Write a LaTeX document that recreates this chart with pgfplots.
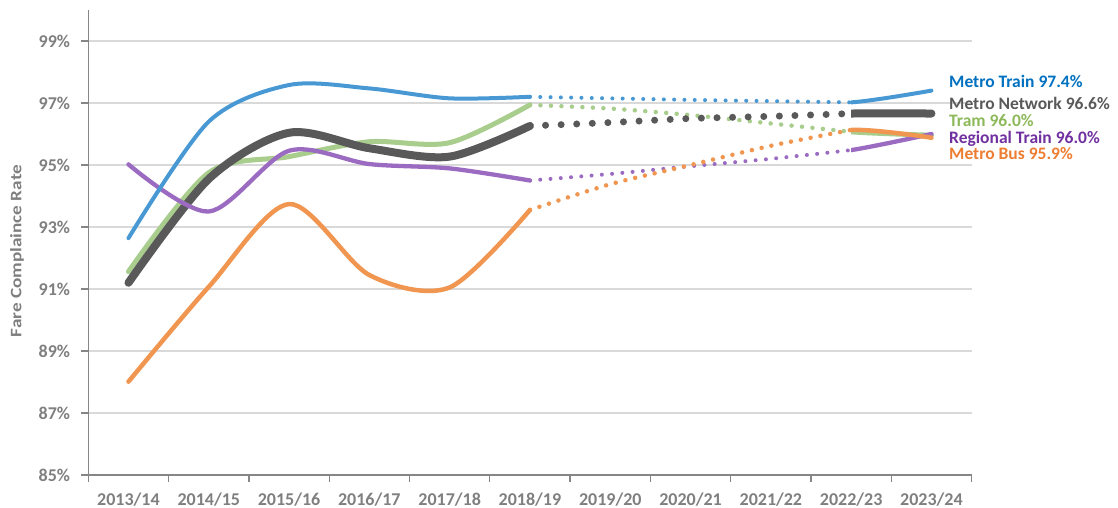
\documentclass[border=0pt]{standalone}
\usepackage{pgfplots}
\pgfplotsset{compat=1.18}
\usepackage{fontspec}
\setmainfont{Carlito}
\definecolor{cblue}{HTML}{4898D4}
\definecolor{cgreen}{HTML}{A8CD8C}
\definecolor{cgray}{HTML}{595959}
\definecolor{cpurple}{HTML}{9B6BC2}
\definecolor{corange}{HTML}{F09650}
\definecolor{lblue}{HTML}{0070C0}
\definecolor{lgreen}{HTML}{8CB85A}
\definecolor{lgray}{HTML}{595959}
\definecolor{lpurple}{HTML}{7030A0}
\definecolor{lorange}{HTML}{ED7D31}
\definecolor{gridc}{HTML}{D9D9D9}
\definecolor{axisc}{HTML}{868686}
\definecolor{tickc}{HTML}{7F7F7F}
\tikzset{
  sol/.style={smooth, no marks, line cap=round, line join=round},
  dotl/.style={smooth, no marks, line cap=round, dash pattern=on 0pt off #1},
}
\begin{document}
\begin{tikzpicture}
\path[use as bounding box] (0,0) rectangle (1118pt,508pt);
\begin{axis}[
  at={(88.3pt,33pt)}, anchor=south west,
  scale only axis, width=883.3pt, height=465pt,
  xmin=-0.5, xmax=10.5, ymin=85, ymax=100,
  axis x line*=bottom, axis y line*=left,
  axis line style={color=axisc, line width=1.5pt},
  tick align=outside, major tick length=7pt,
  tick style={color=axisc, line width=1.3pt},
  ytick={85,87,...,99},
  yticklabel={\pgfmathprintnumber{\tick}\%},
  ymajorgrids, grid style={color=gridc, line width=1.3pt},
  xtick={-0.5,0.5,...,10.5}, xticklabels={},
  extra x ticks={0,1,...,10},
  extra x tick labels={2013/14,2014/15,2015/16,2016/17,2017/18,2018/19,2019/20,2020/21,2021/22,2022/23,2023/24},
  extra x tick style={major tick length=0pt, grid=none},
  /pgf/number format/assume math mode=true,
  tick label style={font=\bfseries\fontsize{18}{21}\selectfont, color=tickc},
  xticklabel style={anchor=base, inner sep=0pt, yshift=-30.5pt},
  yticklabel style={anchor=east, inner sep=0pt, xshift=-11pt},
]
% Tram
\addplot[sol, cgreen, line width=5pt] coordinates {(0,91.56)(1,94.75)(2,95.27)(3,95.75)(4,95.72)(5,96.94)};
\addplot[dotl=10.5pt, cgreen, line width=4.5pt] coordinates {(5,96.94)(6,96.82)(7,96.61)(8,96.34)(9,96.07)};
\begin{scope}
\clip (axis cs:9,80) rectangle (axis cs:11,101);
\addplot[sol, cgreen, line width=5pt] coordinates {(8,96.34)(9,96.07)(10,95.96)};
\end{scope}
% Metro Network
\addplot[sol, cgray, line width=8pt] coordinates {(0,91.2)(1,94.55)(2,96.04)(3,95.54)(4,95.27)(5,96.26)};
\addplot[dotl=15.6pt, cgray, line width=7pt] coordinates {(5,96.26)(6,96.37)(7,96.5)(8,96.57)(9,96.66)};
\begin{scope}
\clip (axis cs:9,80) rectangle (axis cs:11,101);
\addplot[sol, cgray, line width=8pt] coordinates {(8,96.57)(9,96.66)(10,96.66)};
\end{scope}
% Regional Train
\addplot[sol, cpurple, line width=4.3pt] coordinates {(0,95.02)(1,93.5)(2,95.46)(3,95.03)(4,94.89)(5,94.5)};
\addplot[dotl=10.3pt, cpurple, line width=4pt] coordinates {(5,94.5)(6,94.71)(7,94.96)(8,95.2)(9,95.48)};
\begin{scope}
\clip (axis cs:9,80) rectangle (axis cs:11,101);
\addplot[sol, cpurple, line width=4.3pt] coordinates {(8,95.2)(9,95.48)(10,96.0)};
\end{scope}
% Metro Bus
\addplot[sol, corange, line width=4.5pt] coordinates {(0,88.01)(1,91.07)(2,93.74)(3,91.45)(4,91.05)(5,93.55)};
\addplot[dotl=10pt, corange, line width=4.5pt] coordinates {(5,93.55)(6,94.38)(7,95.0)(8,95.62)(9,96.13)};
\begin{scope}
\clip (axis cs:9,80) rectangle (axis cs:11,101);
\addplot[sol, corange, line width=4.5pt] coordinates {(8,95.62)(9,96.13)(10,95.88)};
\end{scope}
% Metro Train
\addplot[sol, cblue, line width=4pt] coordinates {(0,92.64)(1,96.4)(2,97.58)(3,97.47)(4,97.15)(5,97.2)};
\addplot[dotl=10.3pt, cblue, line width=4pt] coordinates {(5,97.2)(6,97.15)(7,97.1)(8,97.06)(9,97.02)};
\begin{scope}
\clip (axis cs:9,80) rectangle (axis cs:11,101);
\addplot[sol, cblue, line width=4pt] coordinates {(8,97.06)(9,97.02)(10,97.4)};
\end{scope}
\end{axis}
\node[rotate=90, font=\bfseries\fontsize{16}{19}\selectfont, color=tickc] at (17pt,257pt) {\scalebox{1.2}[1]{Fare Complaince Rate}};
\begin{scope}[every node/.style={anchor=base west, inner sep=0pt, font=\bfseries\fontsize{17.5}{20}\selectfont}]
\node[color=lblue] at (949pt,420pt) {Metro Train 97.4\%};
\node[color=lgray] at (949pt,398pt) {Metro Network 96.6\%};
\node[color=lgreen] at (949pt,381pt) {Tram 96.0\%};
\node[color=lpurple] at (949pt,364.5pt) {Regional Train 96.0\%};
\node[color=lorange] at (949pt,348pt) {Metro Bus 95.9\%};
\end{scope}
\end{tikzpicture}
\end{document}
